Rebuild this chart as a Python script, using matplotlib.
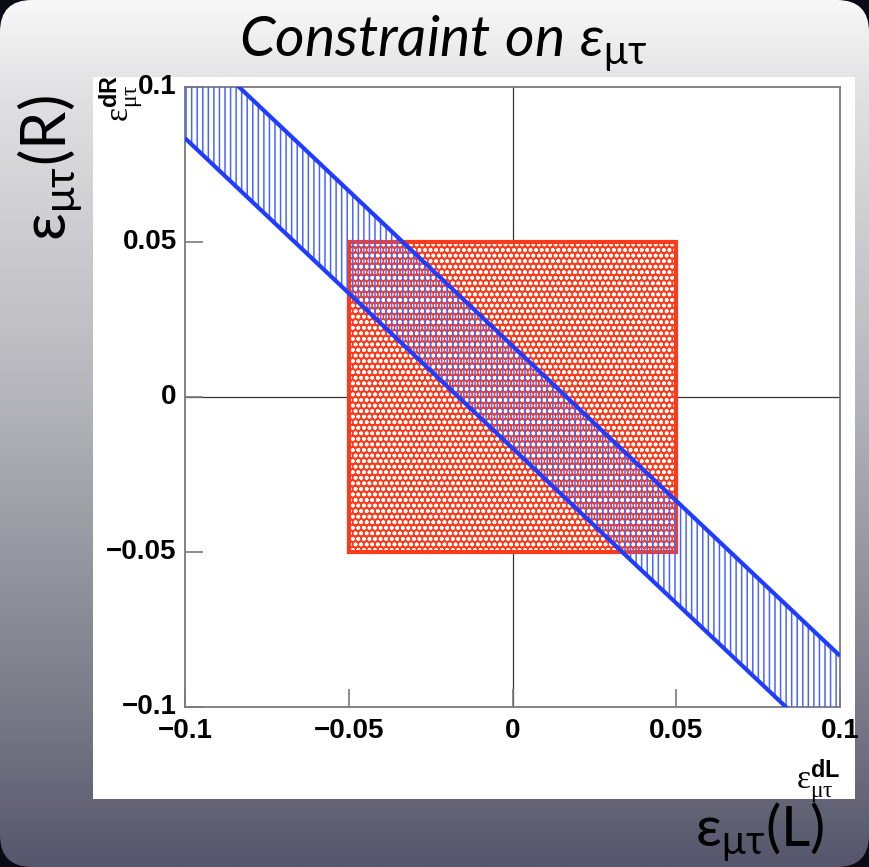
import numpy as np
import matplotlib
matplotlib.use("Agg")
import matplotlib.pyplot as plt
import matplotlib.patches as mpatches

# ── Datos ─────────────────────────────────────────────────────────────
x_range = [-0.1, 0.1]
y_range = [-0.1, 0.1]
ticks = [-0.1, -0.05, 0.0, 0.05, 0.1]
tick_labels = ["\u22120.1", "\u22120.05", "0", "0.05", "0.1"]
box_x = [-0.05, 0.05]          # caja roja (εdL)
box_y = [-0.05, 0.05]          # caja roja (εdR)
band_x = [-0.1, 0.1]           # banda azul: |εdL + εdR| < half
band_center = 0.0
band_half = 0.0165

# ── Estilo ────────────────────────────────────────────────────────────
C_BLUE = "#1f3cff"
C_HATCH = "#4a66ff"
C_RED = "#ff3a1a"
C_FRAME = "#7a7a7a"
W, H = 869, 867

plt.rcParams["mathtext.fontset"] = "custom"
plt.rcParams["mathtext.rm"] = "Lato"
plt.rcParams["mathtext.it"] = "Lato:italic"
plt.rcParams["mathtext.sf"] = "Liberation Serif"          # ε estilo ROOT
plt.rcParams["mathtext.bf"] = "Liberation Sans:bold"      # dL / dR
plt.rcParams["mathtext.fallback"] = "stixsans"
plt.rcParams["hatch.linewidth"] = 1.1

fig = plt.figure(figsize=(W / 100, H / 100), dpi=100)
fig.patch.set_facecolor("#0b0b16")

# ── Fondo en degradado con esquinas redondeadas ──────────────────────
bg = fig.add_axes([0, 0, 1, 1])
bg.set_xlim(0, W)
bg.set_ylim(H, 0)
bg.axis("off")
stops_y = [0.0, 0.1, 0.45, 0.8, 1.0]
stops_c = ["#f8f8f8", "#e2e2e4", "#b6b6bc", "#7d7d8a", "#56566c"]
yy = np.linspace(0, 1, 400)
rgb = np.array([matplotlib.colors.to_rgb(c) for c in stops_c])
grad = np.stack([np.interp(yy, stops_y, rgb[:, k]) for k in range(3)], axis=1)
img = bg.imshow(grad[:, None, :], extent=[0, W, H, 0], aspect="auto", zorder=1)
clip = mpatches.FancyBboxPatch((0, 0), W, H, boxstyle="round,pad=0,rounding_size=32",
                               transform=bg.transData, facecolor="none", edgecolor="none")
bg.add_patch(clip)
img.set_clip_path(clip)
bg.add_patch(mpatches.Rectangle((93, 77), 762, 722, facecolor="white", zorder=2))

# títulos grandes
bg.text(443, 56, r"$\mathit{Constraint\ on\ ε_{\mathrm{μτ}}}$", fontsize=41,
        ha="center", va="baseline", color="black", zorder=3)
bg.text(50, 168, r"$\mathrm{ε_{μτ}(R)}$", fontsize=44, rotation=90,
        ha="center", va="center", color="black", zorder=3)
bg.text(760, 864, r"$\mathrm{ε_{μτ}(L)}$", fontsize=41,
        ha="center", va="bottom", color="black", zorder=3)

# ── Ejes principales ─────────────────────────────────────────────────
ax = fig.add_axes([185 / W, (H - 707) / H, 655 / W, 620 / H])
ax.set_xlim(*x_range)
ax.set_ylim(*y_range)
ax.set_facecolor("white")
for s in ax.spines.values():
    s.set_color(C_FRAME)
    s.set_linewidth(1.3)

ax.axhline(0, color="#333333", lw=0.9, zorder=1)
ax.axvline(0, color="#333333", lw=0.9, zorder=1)

# caja roja
ax.add_patch(mpatches.Rectangle((box_x[0], box_y[0]), box_x[1] - box_x[0], box_y[1] - box_y[0],
                                facecolor=C_RED, edgecolor="white", hatch="ooo", lw=0,
                                zorder=2))
ax.add_patch(mpatches.Rectangle((box_x[0], box_y[0]), box_x[1] - box_x[0], box_y[1] - box_y[0],
                                facecolor="none", edgecolor=C_RED, lw=3, zorder=3))

# banda azul
bx = np.array(band_x)
lo = band_center - band_half - bx
hi = band_center + band_half - bx
ax.fill_between(bx, lo, hi, facecolor="none", edgecolor=C_HATCH, hatch="|||", lw=0, zorder=4)
ax.plot(bx, lo, color=C_BLUE, lw=3, zorder=5, solid_capstyle="butt")
ax.plot(bx, hi, color=C_BLUE, lw=3, zorder=5, solid_capstyle="butt")

ax.set_xticks(ticks)
ax.set_yticks(ticks)
ax.set_xticklabels(tick_labels, fontsize=20, fontweight="bold", family="Liberation Sans")
ax.set_yticklabels(tick_labels, fontsize=20, fontweight="bold", family="Liberation Sans",
                   va="center")
ax.tick_params(direction="in", length=13, width=1.2, color=C_FRAME, top=False, right=False)
ax.tick_params(axis="x", pad=8)
ax.tick_params(axis="y", pad=6)

# títulos de ejes estilo ROOT
fig.text(840 / W, 1 - 757 / H, r"$\mathsf{ε}^{\mathbf{dL}}_{\mathsf{μτ}}$", fontsize=24,
         ha="right", va="top")
fig.text(122 / W, 1 - 75 / H, r"$\mathsf{ε}^{\mathbf{dR}}_{\mathsf{μτ}}$", fontsize=24,
         rotation=90, ha="center", va="top")

fig.savefig("out.png", dpi=100, facecolor=fig.get_facecolor())
